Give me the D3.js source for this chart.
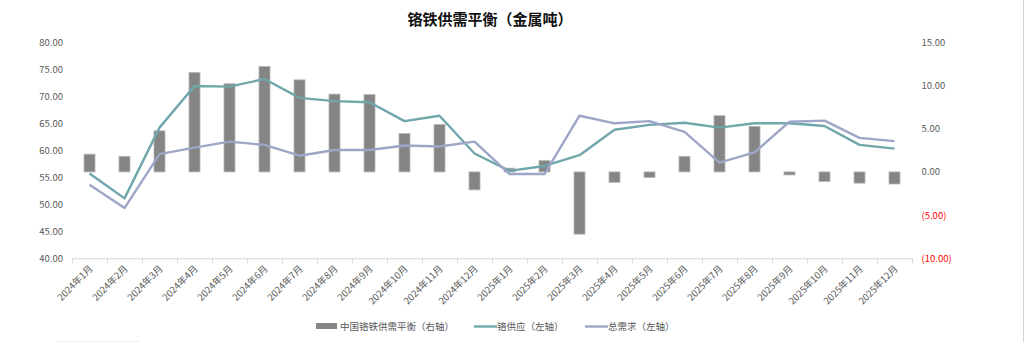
<!DOCTYPE html>
<html><head><meta charset="utf-8">
<script src="https://cdn.jsdelivr.net/npm/d3@7"></script>
<style>body{margin:0;background:#fff;}svg{display:block;font-family:"Noto Sans CJK SC","Noto Sans",sans-serif;}</style>
</head><body>
<svg id="c" width="1024" height="342"></svg>
<script>
const categories = ["2024年1月","2024年2月","2024年3月","2024年4月","2024年5月","2024年6月","2024年7月","2024年8月","2024年9月","2024年10月","2024年11月","2024年12月","2025年1月","2025年2月","2025年3月","2025年4月","2025年5月","2025年6月","2025年7月","2025年8月","2025年9月","2025年10月","2025年11月","2025年12月"];
const balance = [2.05,1.8,4.75,11.5,10.2,12.2,10.65,9.0,8.95,4.45,5.5,-2.08,0.43,1.3,-7.2,-1.2,-0.65,1.8,6.5,5.25,-0.35,-1.1,-1.3,-1.4];
const supply = [55.7,51.1,64.2,71.9,71.8,73.2,69.7,69.1,68.9,65.4,66.4,59.4,56.2,57.1,59.1,63.8,64.7,65.1,64.2,65.0,65.0,64.5,61.0,60.3];
const demand = [53.6,49.3,59.3,60.5,61.6,61.0,59.0,60.05,60.05,60.9,60.7,61.6,55.6,55.6,66.4,65.0,65.4,63.4,57.7,59.6,65.3,65.5,62.3,61.7];
const leftTicks = [40,45,50,55,60,65,70,75,80];
const rightTicks = [-10,-5,0,5,10,15];
const seriesNames = ["中国铬铁供需平衡（右轴）","铬供应（左轴）","总需求（左轴）"];
const title = "铬铁供需平衡（金属吨）";

const svg = d3.select("#c");
const L = 72, R = 912, T = 42.3, B = 258.3;
const x = d3.scaleBand().domain(categories).range([L, R]);
const yL = d3.scaleLinear().domain([40, 80]).range([B, T]);
const yR = d3.scaleLinear().domain([-10, 15]).range([B, T]);
const cBar = "#858585", cSup = "#6fa7aa", cDem = "#9ea6c8";

// border pieces
svg.append("line").attr("x1",1023.5).attr("x2",1023.5).attr("y1",0).attr("y2",342).attr("stroke","#d4d4d4");
svg.append("line").attr("x1",56).attr("x2",140).attr("y1",341.5).attr("y2",341.5).attr("stroke","#eeeeee");

svg.append("text").attr("x",490).attr("y",25).attr("text-anchor","middle")
  .attr("font-size",15).attr("font-weight","bold").attr("fill","#111").text(title);

// left axis labels
svg.append("g").selectAll("text").data(leftTicks).join("text")
  .attr("x",63).attr("y",d=>yL(d)+3.5).attr("text-anchor","end")
  .attr("font-size",9.5).attr("fill","#595959").text(d=>d3.format(".2f")(d));
// right axis labels
svg.append("g").selectAll("text").data(rightTicks).join("text")
  .attr("x",921.5).attr("y",d=>yR(d)+3.5).attr("text-anchor","start")
  .attr("font-size",9.5).attr("fill",d=>d<0?"#ff0000":"#595959")
  .text(d=>d<0?"("+d3.format(".2f")(-d)+")":d3.format(".2f")(d));

// bottom axis
const xa = svg.append("g");
xa.append("line").attr("x1",L).attr("x2",R).attr("y1",B+0.5).attr("y2",B+0.5).attr("stroke","#d9d9d9");
xa.selectAll("line.tk").data(d3.range(categories.length+1)).join("line").attr("class","tk")
  .attr("x1",i=>L+i*x.step()+0.5).attr("x2",i=>L+i*x.step()+0.5)
  .attr("y1",B).attr("y2",B+5).attr("stroke","#d9d9d9");
xa.selectAll("text").data(categories).join("text")
  .attr("transform",d=>`translate(${x(d)+x.bandwidth()/2+4},${B+11}) rotate(-45)`)
  .attr("text-anchor","end").attr("font-size",9.5).attr("fill","#595959").text(d=>d);

// bars
const bw = 11;
svg.append("g").selectAll("rect").data(balance).join("rect")
  .attr("x",(d,i)=>x(categories[i])+x.bandwidth()/2-bw/2)
  .attr("y",d=>yR(Math.max(0,d)))
  .attr("width",bw)
  .attr("height",d=>Math.abs(yR(d)-yR(0)))
  .attr("fill",cBar).attr("stroke","#b5b5b5").attr("stroke-width",0.8);

// lines
const line = (arr, y) => d3.line().x((d,i)=>x(categories[i])+x.bandwidth()/2).y(d=>y(d))(arr);
svg.append("path").attr("d",line(supply,yL)).attr("fill","none").attr("stroke",cSup).attr("stroke-width",2.4).attr("stroke-linejoin","round");
svg.append("path").attr("d",line(demand,yL)).attr("fill","none").attr("stroke",cDem).attr("stroke-width",2.4).attr("stroke-linejoin","round");

// legend
const lg = svg.append("g").attr("font-size",9.5).attr("fill","#595959");
lg.append("rect").attr("x",316).attr("y",323).attr("width",21).attr("height",6).attr("fill",cBar);
lg.append("text").attr("x",340).attr("y",330).text(seriesNames[0]);
lg.append("line").attr("x1",474).attr("x2",497).attr("y1",326.5).attr("y2",326.5).attr("stroke",cSup).attr("stroke-width",2.4);
lg.append("text").attr("x",497).attr("y",330).text(seriesNames[1]);
lg.append("line").attr("x1",585).attr("x2",608).attr("y1",326.5).attr("y2",326.5).attr("stroke",cDem).attr("stroke-width",2.4);
lg.append("text").attr("x",608).attr("y",330).text(seriesNames[2]);
</script>
</body></html>
